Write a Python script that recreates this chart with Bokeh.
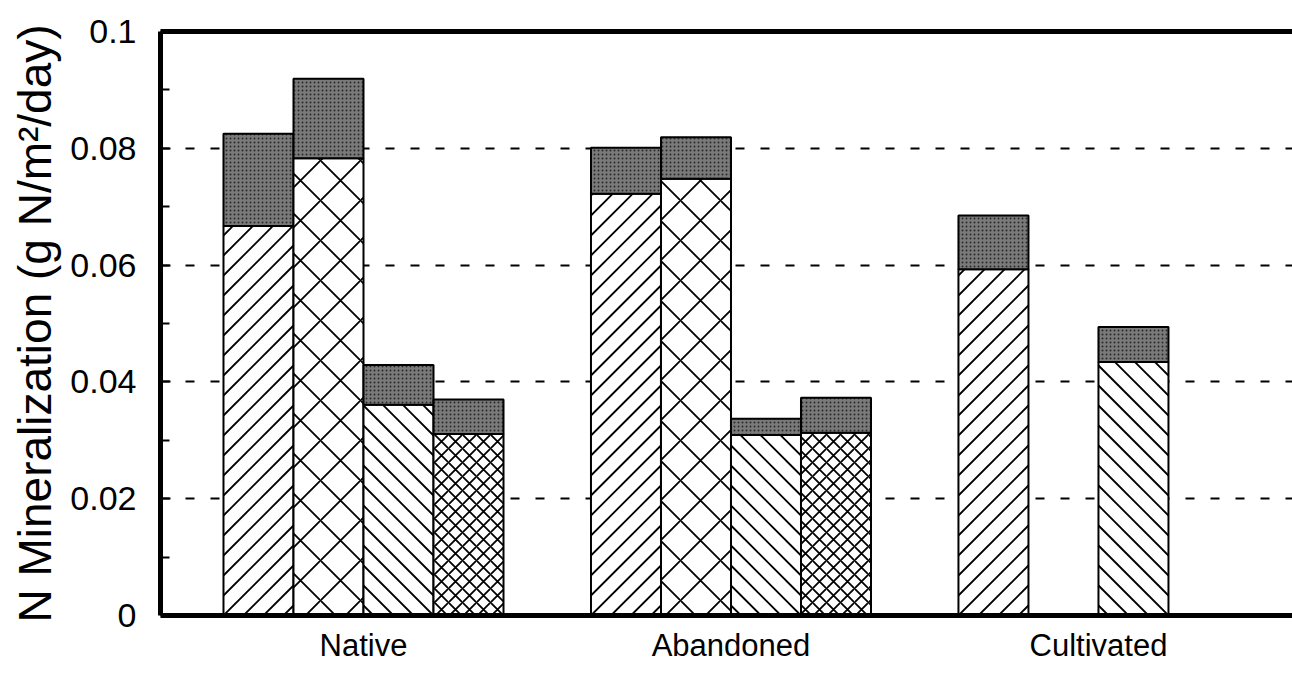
import math
from bokeh.plotting import figure
from bokeh.models import FixedTicker, LinearAxis, Range1d, ColumnDataSource
from bokeh.core.properties import value
from bokeh.embed import file_html
from bokeh.resources import INLINE

# ---- data -------------------------------------------------------------
groups = ["Native", "Abandoned", "Cultivated"]
# four measurement slots per group (Cultivated lacks slots 2 and 4)
base_native = [0.0667, 0.0783, 0.0361, 0.0311]
total_native = [0.0825, 0.0919, 0.0429, 0.0370]
base_abandoned = [0.0722, 0.0748, 0.0309, 0.0313]
total_abandoned = [0.0801, 0.0819, 0.0337, 0.0373]
base_cultivated = [0.0593, None, 0.0434, None]
total_cultivated = [0.0685, None, 0.0494, None]

y_ticks = [0, 0.02, 0.04, 0.06, 0.08, 0.1]
y_tick_labels = ["0", "0.02", "0.04", "0.06", "0.08", "0.1"]
y_minor = [0.01, 0.03, 0.05, 0.07, 0.09]

# ---- layout / styling -------------------------------------------------
W_FIG, H_FIG = 1292, 673
B_LEFT, B_RIGHT, B_TOP, B_BOTTOM = 160, 0, 31, 58
X0, X1 = 0.4476, 3.528
Y0, Y1 = 0.0, 0.1
px_x = (W_FIG - B_LEFT - B_RIGHT) / (X1 - X0)   # pixels per x unit
px_y = (H_FIG - B_TOP - B_BOTTOM) / (Y1 - Y0)   # pixels per y unit

slot_hatch = ["/", "x", "\\", "x"]
slot_scale = [None, 40, None, 14]
DIAG_PERIOD = 20.0   # px between diagonal hatch lines (vertical)
bar_w = 0.1905
FONT = "Liberation Sans"

bases = [base_native, base_abandoned, base_cultivated]
totals = [total_native, total_abandoned, total_cultivated]

p = figure(width=W_FIG, height=H_FIG, output_backend="svg", toolbar_location=None,
           x_range=Range1d(X0, X1), y_range=Range1d(Y0, Y1),
           min_border_left=B_LEFT, min_border_right=B_RIGHT, min_border_top=B_TOP,
           min_border_bottom=B_BOTTOM, outline_line_color=None,
           background_fill_color="white", border_fill_color="white")


def diag_lines(xc, top_val, direction):
    """45-degree hatch lines clipped to the bar [xc-w/2, xc+w/2] x [0, top_val]."""
    W = bar_w * px_x
    H = top_val * px_y
    xl = xc - bar_w / 2
    out = []
    P = DIAG_PERIOD
    if direction == "/":
        c = -W + P / 2
        while c < H:
            u0, u1 = max(0.0, -c), min(W, H - c)
            if u1 > u0:
                out.append((xl + u0 / px_x, (u0 + c) / px_y, xl + u1 / px_x, (u1 + c) / px_y))
            c += P
    else:
        c = P / 2
        while c < W + H:
            u0, u1 = max(0.0, c - H), min(W, c)
            if u1 > u0:
                out.append((xl + u0 / px_x, (c - u0) / px_y, xl + u1 / px_x, (c - u1) / px_y))
            c += P
    return out


seg = dict(x0=[], y0=[], x1=[], y1=[])
for s in range(4):
    xs, b, t = [], [], []
    for gi in range(len(groups)):
        if bases[gi][s] is None:
            continue
        xs.append(gi + 1 + (s - 1.5) * bar_w)
        b.append(bases[gi][s])
        t.append(totals[gi][s])
    src = ColumnDataSource(dict(x=xs, base=b, total=t))
    if slot_hatch[s] == "x":
        p.vbar(x="x", width=bar_w, bottom=0, top="base", source=src,
               fill_color="white", line_color="black", line_width=2,
               hatch_pattern=value("x"), hatch_scale=slot_scale[s],
               hatch_weight=1.8, hatch_color="black")
    else:
        p.vbar(x="x", width=bar_w, bottom=0, top="base", source=src,
               fill_color="white", line_color="black", line_width=2)
        for xc, bv in zip(xs, b):
            for a0, b0, a1, b1 in diag_lines(xc, bv, slot_hatch[s]):
                seg["x0"].append(a0); seg["y0"].append(b0)
                seg["x1"].append(a1); seg["y1"].append(b1)
    p.vbar(x="x", width=bar_w, bottom="base", top="total", source=src,
           fill_color="#7a7a7a", line_color="black", line_width=2,
           hatch_pattern=value("dot"), hatch_scale=4, hatch_weight=1.2,
           hatch_color="#2a2a2a")

p.segment(x0="x0", y0="y0", x1="x1", y1="y1", source=ColumnDataSource(seg),
          line_color="black", line_width=1.8)

# grid
p.xgrid.grid_line_color = None
p.ygrid.ticker = FixedTicker(ticks=y_ticks[1:-1])
p.ygrid.grid_line_color = "black"
p.ygrid.grid_line_width = 2
p.ygrid.grid_line_dash = "9 16"

# y axis
ya = p.yaxis[0]
ya.ticker = FixedTicker(ticks=y_ticks, minor_ticks=y_minor)
ya.major_label_overrides = {v: l for v, l in zip(y_ticks, y_tick_labels)}
ya.axis_line_width = 5
ya.axis_line_color = "black"
ya.major_tick_in = 10
ya.major_tick_out = 0
ya.minor_tick_in = 9
ya.minor_tick_out = 0
ya.major_tick_line_width = 2
ya.minor_tick_line_width = 2
ya.major_label_text_font = FONT
ya.major_label_text_font_size = "34px"
ya.major_label_text_color = "black"
ya.major_label_standoff = 24
ya.axis_label = "N Mineralization (g N/m\u00b2/day)"
ya.axis_label_text_font = FONT
ya.axis_label_text_font_size = "46px"
ya.axis_label_text_font_style = "normal"
ya.axis_label_text_color = "black"
ya.axis_label_standoff = 6

# x axis
xa = p.xaxis[0]
xa.ticker = FixedTicker(ticks=[1, 2, 3])
xa.major_label_overrides = {i + 1: g for i, g in enumerate(groups)}
xa.axis_line_width = 5
xa.axis_line_color = "black"
xa.major_tick_line_color = None
xa.minor_tick_line_color = None
xa.major_label_text_font = FONT
xa.major_label_text_font_size = "31px"
xa.major_label_text_color = "black"
xa.major_label_standoff = 6

# top border as an axis line
top = LinearAxis(ticker=FixedTicker(ticks=[]), axis_line_width=5,
                 axis_line_color="black", major_tick_line_color=None,
                 minor_tick_line_color=None, major_label_text_font_size="0px")
p.add_layout(top, "above")

open("out.html", "w").write(file_html(p, INLINE))
